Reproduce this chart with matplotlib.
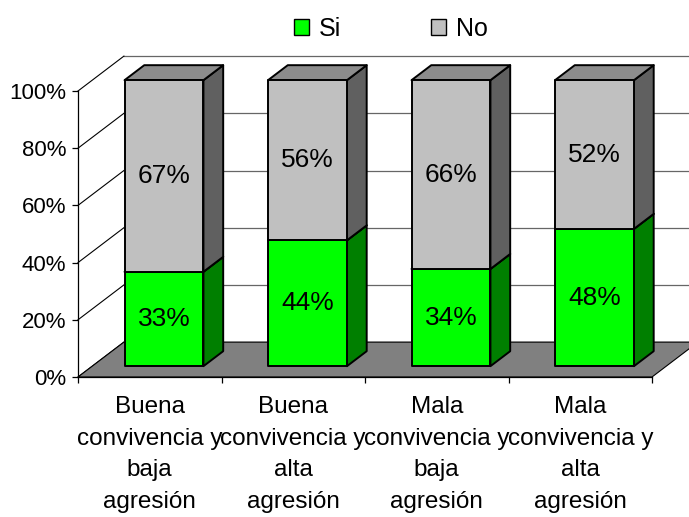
import matplotlib.pyplot as plt
from matplotlib.patches import Polygon, Patch

plt.rcParams['font.family'] = ['Liberation Sans', 'DejaVu Sans']

categorias = ['Buena\nconvivencia y\nbaja\nagresión',
              'Buena\nconvivencia y\nalta\nagresión',
              'Mala\nconvivencia y\nbaja\nagresión',
              'Mala\nconvivencia y\nalta\nagresión']
si = [33, 44, 34, 48]
no = [67, 56, 66, 52]
yticks = [0, 20, 40, 60, 80, 100]

# fake 3d (oblique): depth offset in data units
DX, DY = 0.32, 12.2
Z0, Z1 = 0.31, 0.74   # front / back of the bars
W = 0.55


def p(x, y, z):
    return (x + z * DX, y + z * DY)


fig = plt.figure(figsize=(6.89, 5.17), dpi=100)
ax = fig.add_axes([78 / 689, 1 - 377 / 517, 574 / 689, 286 / 517])
ax.set_xlim(0, 4)
ax.set_ylim(0, 100)

# walls
ax.add_patch(Polygon([p(0, 0, 1), p(4, 0, 1), p(4, 100, 1), p(0, 100, 1)],
                     fc='white', ec='none', clip_on=False, zorder=0))
for v in yticks:
    a, b = p(0, v, 1), p(4, v, 1)
    ax.plot([a[0], b[0]], [a[1], b[1]], color='#666666', lw=0.9, clip_on=False, zorder=0.5)
    ax.plot([0, a[0]], [v, a[1]], color='black', lw=0.8, clip_on=False, zorder=0.5)

# floor
ax.add_patch(Polygon([p(0, 0, 0), p(4, 0, 0), p(4, 0, 1), p(0, 0, 1)],
                     fc='#808080', ec='black', lw=0.8, clip_on=False, zorder=1))

colores = [('#00FF00', '#007F00', '#00C000'), ('#C0C0C0', '#606060', '#8C8C8C')]

for i in range(len(si)):
    x0 = i + 0.5 - W / 2
    x1 = x0 + W
    tramos = [(0, si[i]), (si[i], si[i] + no[i])]
    for k, (b, t) in enumerate(tramos):
        fc, sc, tc = colores[k]
        front = [p(x0, b, Z0), p(x1, b, Z0), p(x1, t, Z0), p(x0, t, Z0)]
        side = [p(x1, b, Z0), p(x1, b, Z1), p(x1, t, Z1), p(x1, t, Z0)]
        top = [p(x0, t, Z0), p(x1, t, Z0), p(x1, t, Z1), p(x0, t, Z1)]
        for poly, c in [(side, sc), (top, tc), (front, fc)]:
            ax.add_patch(Polygon(poly, fc=c, ec='black', lw=1.4, joinstyle='round',
                                 clip_on=False, zorder=3 + i))
        lx, ly = p(i + 0.5, (b + t) / 2, Z0)
        ax.text(lx, ly, f'{t - b}%', ha='center', va='center', fontsize=19, zorder=10)

for s in ['top', 'right']:
    ax.spines[s].set_visible(False)
ax.spines['left'].set_linewidth(0.9)
ax.spines['bottom'].set_linewidth(0.9)

ax.set_yticks(yticks)
ax.set_yticklabels([f'{v}%' for v in yticks], fontsize=16)
ax.set_xticks(range(5))
ax.set_xticklabels([])
ax.set_xticks([i + 0.5 for i in range(4)], minor=True)
ax.set_xticklabels(categorias, minor=True, fontsize=17.5, linespacing=1.56)
ax.tick_params(axis='y', length=4.5, width=0.9, pad=4)
ax.tick_params(axis='x', which='major', length=4.5, width=0.9)
ax.tick_params(axis='x', which='minor', length=0, pad=14)

handles = [Patch(fc='#00FF00', ec='black', lw=1), Patch(fc='#C0C0C0', ec='black', lw=1)]
fig.legend(handles, ['Si', 'No'], loc='center', bbox_to_anchor=(391 / 689, 1 - 29 / 517),
           ncol=2, frameon=False, fontsize=18, handlelength=0.6, handleheight=0.6,
           handletextpad=0.4, columnspacing=3.6)

fig.savefig('out.png', dpi=100)
